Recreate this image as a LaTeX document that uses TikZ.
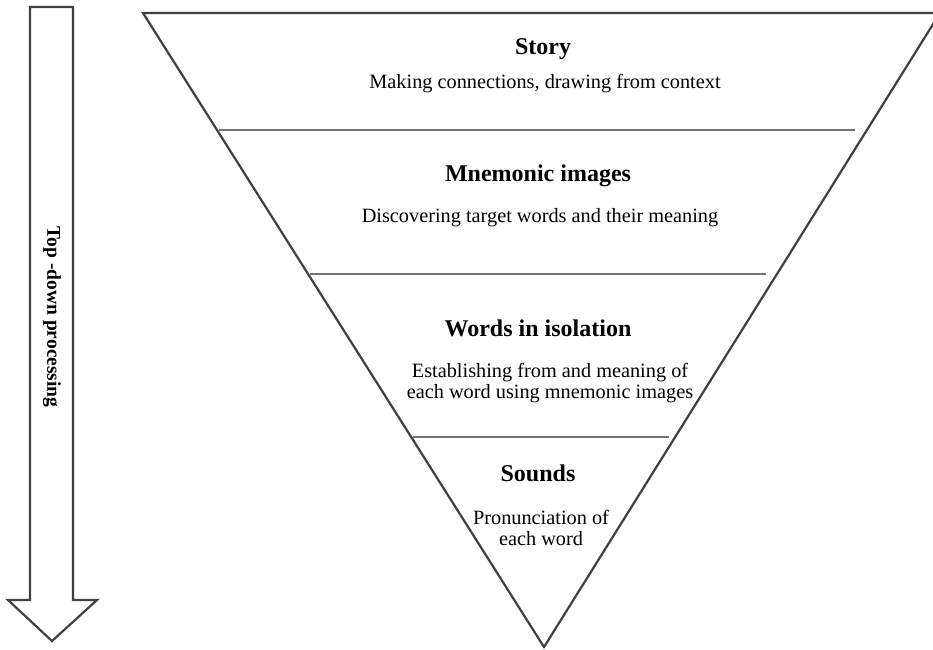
\documentclass[tikz,border=0pt]{standalone}
\usepackage{fontspec}
\setmainfont{Liberation Serif}
\begin{document}
\begin{tikzpicture}[x=1pt,y=-1pt,
  outline/.style={draw=black!75,line width=2.2pt,line join=miter},
  divider/.style={draw=black!55,line width=1.3pt},
  title/.style={font=\fontsize{24}{28}\selectfont\bfseries,inner sep=0pt},
  desc/.style={font=\fontsize{20.3}{21}\selectfont,align=center,inner sep=0pt}]
\useasboundingbox (0,0) rectangle (933,649);
\begin{scope}
\clip (0,0) rectangle (933,649);
% arrow
\draw[outline] (30,7) -- (73,7) -- (73,600) -- (97,600) -- (52,641) -- (8,600) -- (30,600) -- cycle;
% triangle
\coordinate (tl) at (143,13);
\coordinate (tr) at (940,13);
\coordinate (ap) at (544,647);
\draw[outline] (tl) -- (tr) -- (ap) -- cycle;
\end{scope}
\draw[divider] (218.5,130) -- (855,130);
\draw[divider] (309.5,274) -- (766,274);
\draw[divider] (412.5,437) -- (669,437);
\node[title] (t1) at (543,49) {Story};
\node[desc] (d1) at (545,84) {Making connections, drawing from context};
\node[title] (t2) at (538,176) {Mnemonic images};
\node[desc] (d2) at (540,218) {Discovering target words and their meaning};
\node[title] (t3) at (538,328) {Words in isolation};
\node[desc] (d3) at (550,383) {Establishing from and meaning of\\each word using mnemonic images};
\node[title] (t4) at (538,473) {Sounds};
\node[desc] (d4) at (541,528) {Pronunciation of\\each word};
\node[font=\fontsize{19.5}{22}\selectfont\bfseries,rotate=-90,inner sep=0pt] (lab) at (52,317) {Top -down processing};
\end{tikzpicture}
\end{document}
